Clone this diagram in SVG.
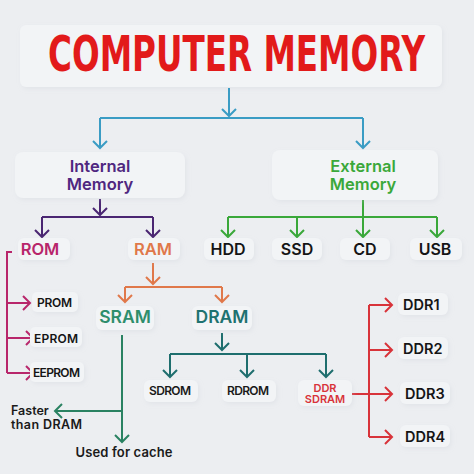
<svg xmlns="http://www.w3.org/2000/svg" width="474" height="474" viewBox="0 0 474 474">
<defs>
<filter id="sh" x="-20%" y="-30%" width="140%" height="160%">
<feDropShadow dx="1.5" dy="2" stdDeviation="2" flood-color="#c4c9d1" flood-opacity="0.25"/>
</filter>
<marker id="aBlue" viewBox="-9 -9 11 18" refX="0" refY="0" markerWidth="11" markerHeight="18" markerUnits="userSpaceOnUse" orient="auto"><path d="M-7,-7 L0,0 L-7,7" fill="none" stroke="#3a9cc4" stroke-width="2"/></marker>
<marker id="aPur" viewBox="-9 -9 11 18" refX="0" refY="0" markerWidth="11" markerHeight="18" markerUnits="userSpaceOnUse" orient="auto"><path d="M-7,-7 L0,0 L-7,7" fill="none" stroke="#4a2672" stroke-width="2"/></marker>
<marker id="aGrn" viewBox="-9 -9 11 18" refX="0" refY="0" markerWidth="11" markerHeight="18" markerUnits="userSpaceOnUse" orient="auto"><path d="M-7,-7 L0,0 L-7,7" fill="none" stroke="#3aa83a" stroke-width="2"/></marker>
<marker id="aOrg" viewBox="-9 -9 11 18" refX="0" refY="0" markerWidth="11" markerHeight="18" markerUnits="userSpaceOnUse" orient="auto"><path d="M-7,-7 L0,0 L-7,7" fill="none" stroke="#e0784a" stroke-width="2"/></marker>
<marker id="aMag" viewBox="-9 -9 11 18" refX="0" refY="0" markerWidth="11" markerHeight="18" markerUnits="userSpaceOnUse" orient="auto"><path d="M-7,-7 L0,0 L-7,7" fill="none" stroke="#b8266b" stroke-width="2"/></marker>
<marker id="aSr" viewBox="-9 -9 11 18" refX="0" refY="0" markerWidth="11" markerHeight="18" markerUnits="userSpaceOnUse" orient="auto"><path d="M-7,-7 L0,0 L-7,7" fill="none" stroke="#2a8262" stroke-width="2"/></marker>
<marker id="aDr" viewBox="-9 -9 11 18" refX="0" refY="0" markerWidth="11" markerHeight="18" markerUnits="userSpaceOnUse" orient="auto"><path d="M-7,-7 L0,0 L-7,7" fill="none" stroke="#1e6e6e" stroke-width="2"/></marker>
<marker id="aRed" viewBox="-9 -9 11 18" refX="0" refY="0" markerWidth="11" markerHeight="18" markerUnits="userSpaceOnUse" orient="auto"><path d="M-7,-7 L0,0 L-7,7" fill="none" stroke="#d8333a" stroke-width="2"/></marker>
</defs>
<style>
.box{fill:#f2f4f6;filter:url(#sh)}
.t{font-family:Inter,"Noto Sans",sans-serif;font-weight:600;text-anchor:middle}
.ts{font-family:Inter,"Noto Sans",sans-serif;font-weight:600}
.c{fill:none;stroke-width:2}
</style>
<rect width="474" height="474" fill="#eceef1"/>

<g id="title">
<rect class="box" x="20" y="25" width="422" height="62" rx="6"/>
<text x="236.5" y="71" font-family="'DejaVu Sans Condensed','DejaVu Sans',sans-serif" font-weight="bold" font-size="50" fill="#e21a1a" text-anchor="middle" textLength="377" lengthAdjust="spacingAndGlyphs">COMPUTER MEMORY</text>
</g>

<g id="connectors">
<path class="c" stroke="#3a9cc4" d="M229,88 V116" marker-end="url(#aBlue)"/>
<path class="c" stroke="#3a9cc4" d="M100,118 H363"/>
<path class="c" stroke="#3a9cc4" d="M100,118 V148" marker-end="url(#aBlue)"/>
<path class="c" stroke="#3a9cc4" d="M363,118 V148" marker-end="url(#aBlue)"/>

<path class="c" stroke="#4a2672" d="M100,199 V215" marker-end="url(#aPur)"/>
<path class="c" stroke="#4a2672" d="M42,217 H153"/>
<path class="c" stroke="#4a2672" d="M42,217 V237" marker-end="url(#aPur)"/>
<path class="c" stroke="#4a2672" d="M153,217 V237" marker-end="url(#aPur)"/>

<path class="c" stroke="#3aa83a" d="M363,200 V237" marker-end="url(#aGrn)"/>
<path class="c" stroke="#3aa83a" d="M228,217 H437"/>
<path class="c" stroke="#3aa83a" d="M228,217 V237" marker-end="url(#aGrn)"/>
<path class="c" stroke="#3aa83a" d="M297,217 V237" marker-end="url(#aGrn)"/>
<path class="c" stroke="#3aa83a" d="M437,217 V237" marker-end="url(#aGrn)"/>

<path class="c" stroke="#e0784a" d="M153,263 V284" marker-end="url(#aOrg)"/>
<path class="c" stroke="#e0784a" d="M125,287 H222"/>
<path class="c" stroke="#e0784a" d="M125,287 V302" marker-end="url(#aOrg)"/>
<path class="c" stroke="#e0784a" d="M222,287 V302" marker-end="url(#aOrg)"/>

<path class="c" stroke="#b8266b" d="M12,252 H7 V373"/>
<path class="c" stroke="#b8266b" d="M7,303 H30" marker-end="url(#aMag)"/>
<path class="c" stroke="#b8266b" d="M7,338 H33" marker-end="url(#aMag)"/>
<path class="c" stroke="#b8266b" d="M7,373 H33" marker-end="url(#aMag)"/>

<path class="c" stroke="#2a8262" d="M122,335 V442" marker-end="url(#aSr)"/>
<path class="c" stroke="#2a8262" d="M122,411 H55" marker-end="url(#aSr)"/>

<path class="c" stroke="#1e6e6e" d="M222,333 V350" marker-end="url(#aDr)"/>
<path class="c" stroke="#1e6e6e" d="M170,354 H326"/>
<path class="c" stroke="#1e6e6e" d="M170,354 V377" marker-end="url(#aDr)"/>
<path class="c" stroke="#1e6e6e" d="M247,354 V377" marker-end="url(#aDr)"/>
<path class="c" stroke="#1e6e6e" d="M326,354 V377" marker-end="url(#aDr)"/>

<path class="c" stroke="#d8333a" d="M350,394 H392" marker-end="url(#aRed)"/>
<path class="c" stroke="#d8333a" d="M369,305 V437"/>
<path class="c" stroke="#d8333a" d="M369,305 H392" marker-end="url(#aRed)"/>
<path class="c" stroke="#d8333a" d="M369,350 H392" marker-end="url(#aRed)"/>
<path class="c" stroke="#d8333a" d="M369,437 H392" marker-end="url(#aRed)"/>
</g>

<g id="internal">
<rect class="box" x="15" y="152" width="170" height="46" rx="8"/>
<text class="t" x="100" y="172" font-size="16.5" fill="#4f2780">Internal</text>
<text class="t" x="100" y="190" font-size="16.5" fill="#4f2780">Memory</text>
</g>
<g id="external">
<rect class="box" x="272" y="150" width="166" height="50" rx="8"/>
<text class="t" x="363" y="172" font-size="16.5" fill="#3aa83a">External</text>
<text class="t" x="363" y="190" font-size="16.5" fill="#3aa83a">Memory</text>
</g>

<g id="rom"><rect class="box" x="18" y="238" width="52" height="22" rx="6"/><text class="t" x="40" y="255" font-size="16.5" fill="#b8266b">ROM</text></g>
<g id="ram"><rect class="box" x="128" y="238" width="52" height="22" rx="6"/><text class="t" x="153" y="255" font-size="16.5" fill="#e0784a">RAM</text></g>
<g id="hdd"><rect class="box" x="204" y="238" width="50" height="22" rx="6"/><text class="t" x="228" y="255" font-size="16" fill="#151515">HDD</text></g>
<g id="ssd"><rect class="box" x="272" y="238" width="50" height="22" rx="6"/><text class="t" x="297" y="255" font-size="16" fill="#151515">SSD</text></g>
<g id="cd"><rect class="box" x="340" y="238" width="50" height="22" rx="6"/><text class="t" x="365" y="255" font-size="16" fill="#151515">CD</text></g>
<g id="usb"><rect class="box" x="410" y="238" width="52" height="22" rx="6"/><text class="t" x="435" y="255" font-size="16" fill="#151515">USB</text></g>

<g id="prom"><rect class="box" x="32" y="292" width="46" height="20" rx="5"/><text class="ts" x="37" y="307" font-size="12" fill="#151515" textLength="35">PROM</text></g>
<g id="eprom"><rect class="box" x="30" y="327" width="52" height="20" rx="5"/><text class="ts" x="34" y="343" font-size="12" fill="#151515" textLength="44">EPROM</text></g>
<g id="eeprom"><rect class="box" x="30" y="362" width="54" height="20" rx="5"/><text class="ts" x="33" y="377" font-size="12" fill="#151515" textLength="47">EEPROM</text></g>

<g id="sram"><rect class="box" x="96" y="306" width="58" height="24" rx="6"/><text class="t" x="125" y="323" font-size="17.5" fill="#2e8e6c">SRAM</text></g>
<g id="dram"><rect class="box" x="192" y="306" width="60" height="24" rx="6"/><text class="t" x="222" y="323" font-size="17.5" fill="#1e7270">DRAM</text></g>

<g id="faster"><text class="ts" x="11" y="415" font-size="12.5" fill="#1a1a1a" font-weight="500">Faster</text><text class="ts" x="11" y="428.5" font-size="12.5" fill="#1a1a1a" font-weight="500" textLength="71">than DRAM</text></g>
<g id="cache"><text class="t" x="124" y="457" font-size="13" fill="#1a1a1a" font-weight="500" textLength="97">Used for cache</text></g>

<g id="sdrom"><rect class="box" x="144" y="380" width="54" height="22" rx="6"/><text class="t" x="170" y="395" font-size="12" fill="#1a1a1a" textLength="42">SDROM</text></g>
<g id="rdrom"><rect class="box" x="222" y="380" width="54" height="22" rx="6"/><text class="t" x="248" y="395" font-size="12" fill="#1a1a1a" textLength="42">RDROM</text></g>
<g id="ddrsdram"><rect class="box" x="298" y="380" width="54" height="26" rx="6"/><text class="t" x="325" y="392" font-size="11" fill="#d8333a">DDR</text><text class="t" x="325" y="402.5" font-size="11" fill="#d8333a">SDRAM</text></g>

<g id="ddr1"><rect class="box" x="398" y="293" width="50" height="22" rx="6"/><text class="ts" x="403" y="310" font-size="14.5" fill="#151515">DDR1</text></g>
<g id="ddr2"><rect class="box" x="398" y="337" width="50" height="22" rx="6"/><text class="ts" x="403" y="354" font-size="14.5" fill="#151515">DDR2</text></g>
<g id="ddr3"><rect class="box" x="400" y="382" width="50" height="22" rx="6"/><text class="ts" x="405" y="399" font-size="14.5" fill="#151515">DDR3</text></g>
<g id="ddr4"><rect class="box" x="400" y="425" width="50" height="22" rx="6"/><text class="ts" x="405" y="442" font-size="14.5" fill="#151515">DDR4</text></g>
</svg>
